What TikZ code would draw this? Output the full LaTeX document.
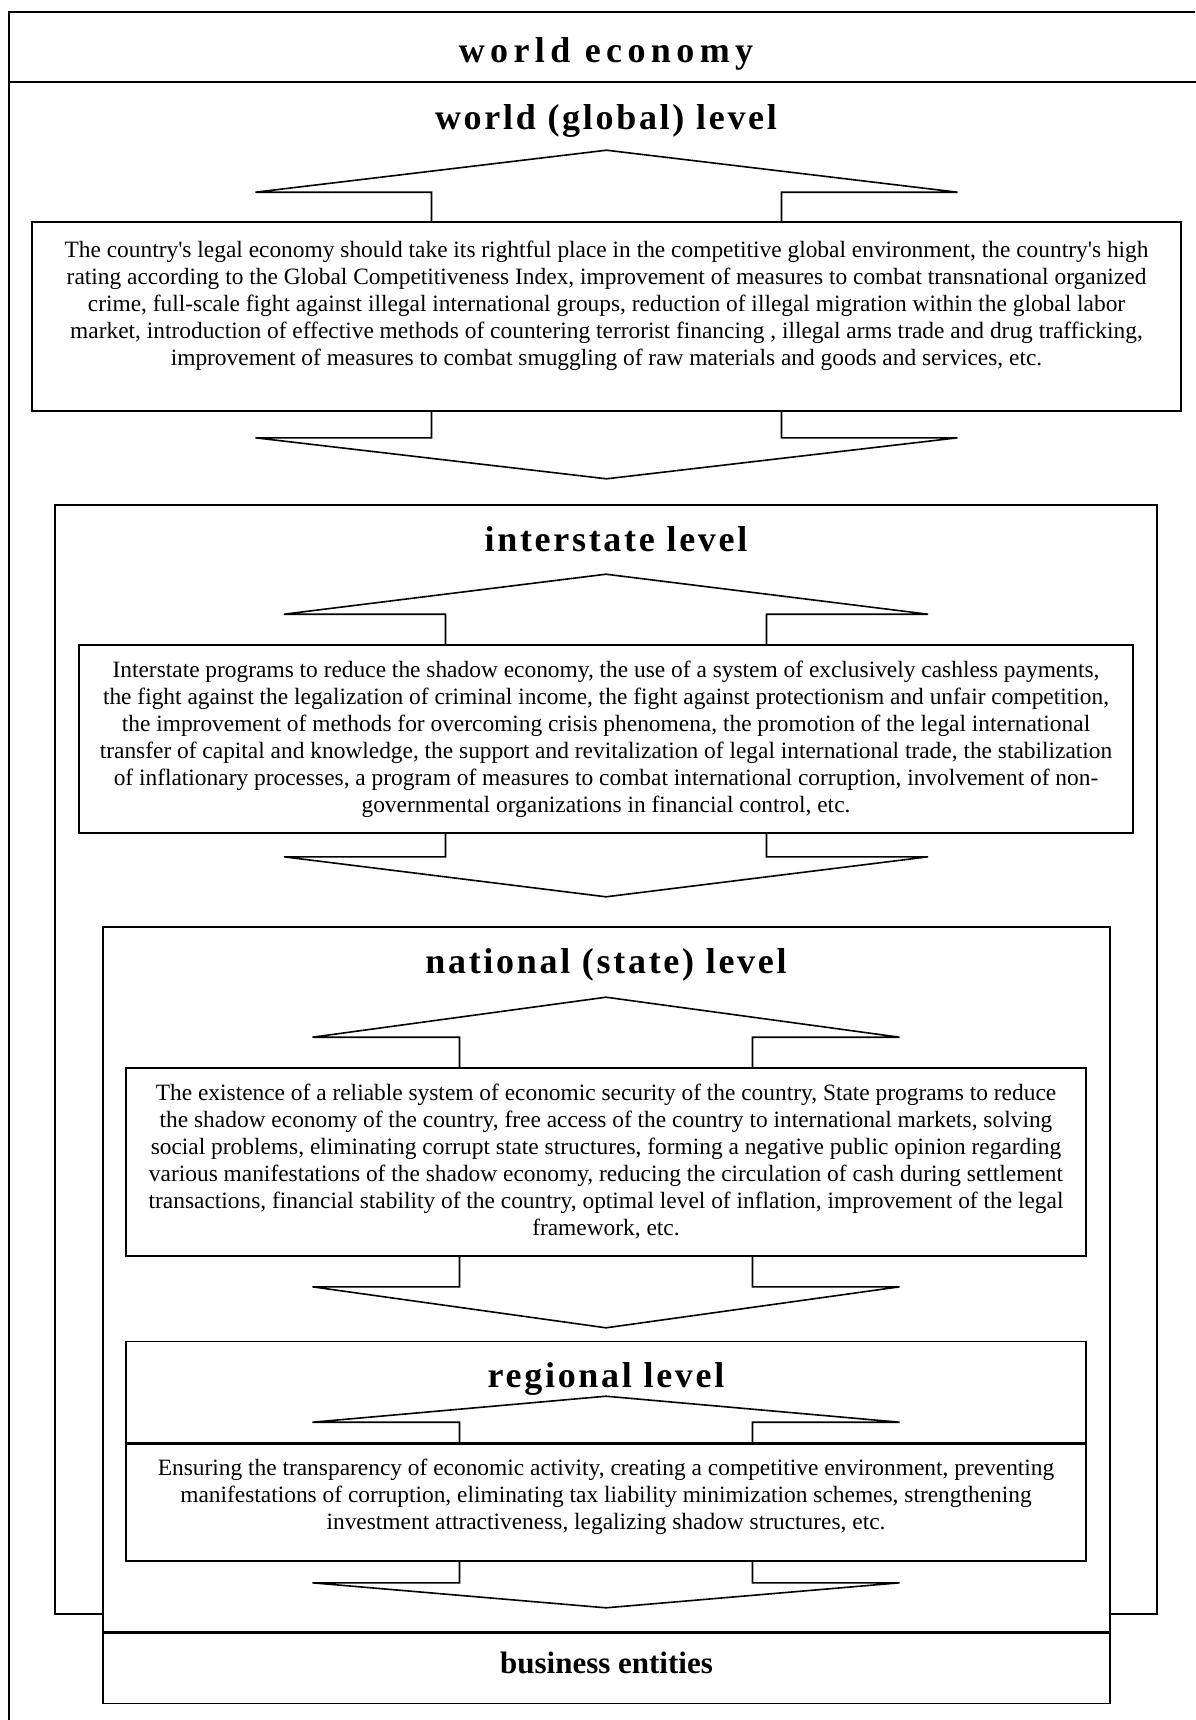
\documentclass[tikz,border=0pt]{standalone}
\usepackage{fontspec}
\setmainfont{Liberation Serif}
\newfontfamily\levelfont[LetterSpace=7.5]{Liberation Serif}
\newfontfamily\titlefont[LetterSpace=15]{Liberation Serif}
\usetikzlibrary{calc,positioning}

% hollow block arrows on top / bottom of a level box
% #1 box, #2 half stem, #3 half head, #4 stem length, #5 head height
\newcommand{\levelarrowup}[5]{%
  \draw[blockarrow] ($(#1.north)+(-#2,0)$) -- ++(0,-#4) -- ++(#2-#3,0)
    -- ++(#3,-#5) -- ++(#3,#5) -- ++(#2-#3,0) -- ++(0,#4);}
\newcommand{\levelarrowdown}[5]{%
  \draw[blockarrow] ($(#1.south)+(-#2,0)$) -- ++(0,#4) -- ++(#2-#3,0)
    -- ++(#3,#5) -- ++(#3,-#5) -- ++(#2-#3,0) -- ++(0,-#4);}

\begin{document}
\begin{tikzpicture}[x=0.5pt,y=-0.5pt]
  \tikzset{frame/.style={draw,line width=0.8pt,inner sep=0pt},
           levelbox/.style={frame,fill=white,align=center,minimum width=480pt,
                            font=\fontsize{11.7}{13.5}\selectfont},
           bodytext/.style={align=center,inner sep=0pt,font=\fontsize{11.7}{13.5}\selectfont},
           levelhead/.style={anchor=base,inner sep=0pt,
                             font=\levelfont\bfseries\fontsize{18}{20}\selectfont},
           titlehead/.style={anchor=base,inner sep=0pt,
                             font=\titlefont\bfseries\fontsize{18}{20}\selectfont},
           blockarrow/.style={line width=0.8pt,line join=miter}}
  \useasboundingbox[fill=white] (0,0) rectangle (1195,1720);

  % world economy
  \begin{scope}
    \clip (0,0) rectangle (1195,1720);
    \node[frame,minimum width=600pt,minimum height=862pt,anchor=north west] (econ) at (8,11) {};
  \end{scope}
  \draw[line width=0.8pt] ($(econ.north west)+(0,71)$) -- ($(econ.north east)+(0,71)$);
  \node[titlehead] (econtitle) at (606,62) {world economy};

  % world (global) level
  \node[levelhead] (worldhead) at (606,129) {world (global) level};
  \node[levelbox,minimum width=574.5pt,minimum height=94.5pt] (worldbox) at (606.5,316.5)
    {The country\textquotesingle s legal economy should take its rightful place in the competitive global environment, the country\textquotesingle s high\\
     rating according to the Global Competitiveness Index, improvement of measures to combat transnational organized\\
     crime, full-scale fight against illegal international groups, reduction of illegal migration within the global labor\\
     market, introduction of effective methods of countering terrorist financing , illegal arms trade and drug trafficking,\\
     improvement of measures to combat smuggling of raw materials and goods and services, etc.\\
     \mbox{}};
  \levelarrowup{worldbox}{175}{351}{29}{42}
  \levelarrowdown{worldbox}{175}{351}{26}{41}

  % interstate level
  \node[frame,minimum width=551pt,minimum height=554.5pt] (interframe) at (606,1059.5) {};
  \node[levelhead] (interhead) at (616,551) {interstate level};
  \node[levelbox,minimum width=527.25pt,minimum height=94pt] (interbox) at (606,739)
    {Interstate programs to reduce the shadow economy, the use of a system of exclusively cashless payments,\\
     the fight against the legalization of criminal income, the fight against protectionism and unfair competition,\\
     the improvement of methods for overcoming crisis phenomena, the promotion of the legal international\\
     transfer of capital and knowledge, the support and revitalization of legal international trade, the stabilization\\
     of inflationary processes, a program of measures to combat international corruption, involvement of non-\\
     governmental organizations in financial control, etc.};
  \levelarrowup{interbox}{160.5}{322}{30}{40}
  \levelarrowdown{interbox}{160.5}{322}{23}{40}

  % national (state) level
  \node[frame,fill=white,minimum width=503.5pt,minimum height=352.5pt] (natframe) at (606.5,1279.5) {};
  \node[levelhead] (nathead) at (606,973) {national (state) level};
  \node[levelbox,minimum height=94pt] (natbox) at (606,1162)
    {The existence of a reliable system of economic security of the country, State programs to reduce\\
     the shadow economy of the country, free access of the country to international markets, solving\\
     social problems, eliminating corrupt state structures, forming a negative public opinion regarding\\
     various manifestations of the shadow economy, reducing the circulation of cash during settlement\\
     transactions, financial stability of the country, optimal level of inflation, improvement of the legal\\
     framework, etc.};
  \levelarrowup{natbox}{146.5}{293.5}{30}{40}
  \levelarrowdown{natbox}{146.5}{293.5}{30}{41}

  % regional level
  \node[levelbox,minimum height=58.5pt] (regbox) at (606,1502.5) {};
  \node[frame,minimum width=480pt,minimum height=50.5pt,above=0pt of regbox] (reghead) {};
  \node[levelhead] (regtitle) at (606,1387) {regional level};
  \node[bodytext] (regtext) at (606,1497)
    {Ensuring the transparency of economic activity, creating a competitive environment, preventing\\
     manifestations of corruption, eliminating tax liability minimization schemes, strengthening\\
     investment attractiveness, legalizing shadow structures, etc.};
  \levelarrowup{regbox}{146.5}{293.5}{21}{26}
  \levelarrowdown{regbox}{146.5}{293.5}{21}{25}

  % business entities
  \node[frame,minimum width=503.5pt,minimum height=35pt,below=0pt of natframe,
        font=\bfseries\fontsize{15.5}{17}\selectfont,text height=10pt,text depth=5pt] (business) {business entities};
\end{tikzpicture}
\end{document}
